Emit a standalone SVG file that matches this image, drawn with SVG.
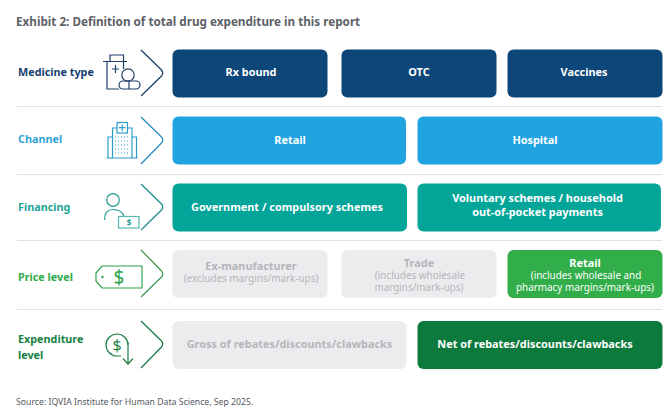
<svg xmlns="http://www.w3.org/2000/svg" width="671" height="420" viewBox="0 0 671 420">
<style>
text{font-family:"Noto Sans","Open Sans",sans-serif}
.t{font-size:10.9px;font-weight:700;fill:#fff;text-anchor:middle}
.gt{font-size:10.9px;font-weight:700;fill:#b5b5ba;text-anchor:middle}
.gs{font-size:9.9px;fill:#b5b5ba;text-anchor:middle}
.ws{font-size:9.9px;fill:#fff;text-anchor:middle}
.l{font-size:10.8px;font-weight:700}
.sep{stroke:#dfe1e8;stroke-width:1;fill:none}
.chev{fill:none;stroke-width:1.3}
.ic{fill:none;stroke-width:1.2}
</style>
<rect width="671" height="420" fill="#fff"/>
<text x="16" y="26" style="font-size:11.7px;font-weight:700;fill:#5d6168">Exhibit 2: Definition of total drug expenditure in this report</text>
<g id="separators"><path class="sep" d="M17 106.500H662M17 174.500H662M17 240.500H662M17 309.500H662"/></g>
<g id="connectors">
<path class="chev" stroke="#1f3f66" d="M141 50L161.500 70Q164 73 161.500 76L141 96"/>
<path class="chev" stroke="#2a8fbf" d="M141 117L161.500 137Q164 140 161.500 143L141 164"/>
<path class="chev" stroke="#1f8f88" d="M141 184L161.500 204Q164 207 161.500 210L141 230"/>
<path class="chev" stroke="#3f9a58" d="M141 250L161.500 271Q164 274 161.500 277L141 297"/>
<path class="chev" stroke="#1f7a45" d="M141 321L161.500 341Q164 344 161.500 347L141 368"/>
</g>
<g id="row-medicine">
<text class="l" x="18" y="76" fill="#17406f">Medicine type</text>
<g class="ic" stroke="#1f3f66"><path d="M103 61.500H127M107 61.500V89H119M110 61.500V55H123.500V69M112 69H119M115.500 65V73"/><circle cx="128" cy="75" r="6.200"/><rect x="119" y="81" width="21" height="8" rx="4"/><path d="M129 81V89"/></g>
<g id="rx"><rect x="172.500" y="49.500" width="155" height="48" rx="6" fill="#0d4678"/><text class="t" x="251" y="76">Rx bound</text></g>
<g id="otc"><rect x="341.500" y="49.500" width="155" height="48" rx="6" fill="#0d4678"/><text class="t" x="419" y="76">OTC</text></g>
<g id="vaccines"><rect x="507.500" y="49.500" width="155" height="48" rx="6" fill="#0d4678"/><text class="t" x="584" y="76">Vaccines</text></g>
</g>
<g id="row-channel">
<text class="l" x="18" y="143" fill="#2ea3d6">Channel</text>
<g class="ic" stroke="#2a9ccc"><path d="M106.500 158H137.500M108 158V137H112.500V158M132 158V137H136.500V158M112.500 137V128H117M127.500 128H132V137"/><rect x="117" y="122.500" width="10.500" height="10.500" fill="#fff"/><path d="M122.200 124.500V131M119 127.700H125.500"/><path d="M115 137H130M115 141H130M115 145H130M115 149H130M115 153H130" stroke-dasharray="1 2"/></g>
<g id="retail-channel"><rect x="172.500" y="116.500" width="233.500" height="48" rx="6" fill="#20a3df"/><text class="t" x="290" y="144">Retail</text></g>
<g id="hospital"><rect x="417.500" y="116.500" width="245" height="48" rx="6" fill="#20a3df"/><text class="t" x="535" y="144">Hospital</text></g>
</g>
<g id="row-financing">
<text class="l" x="18" y="211" fill="#1ea598">Financing</text>
<g class="ic" stroke="#1f9c91"><circle cx="113" cy="200" r="6.300"/><path d="M104.500 220C104.500 213 108 209.500 113 209.500C118 209.500 122 211 124 216"/><rect x="118.500" y="216.500" width="20.500" height="11.500" stroke="#56b8af"/></g>
<text x="129" y="226" style="font-size:8px;font-weight:700;fill:#1f9c91;text-anchor:middle">$</text>
<g id="gov"><rect x="172.500" y="183.500" width="234.500" height="48" rx="6" fill="#03a599"/><text class="t" x="287" y="211">Government / compulsory schemes</text></g>
<g id="voluntary"><rect x="417.500" y="183.500" width="243.500" height="48" rx="6" fill="#03a599"/><text class="t" x="537.500" y="202">Voluntary schemes / household</text><text class="t" x="537.500" y="216">out-of-pocket payments</text></g>
</g>
<g id="row-price">
<text class="l" x="18" y="281" fill="#2faa4a">Price level</text>
<g class="ic" stroke="#2fa24d" stroke-width="1.400"><path d="M102 266H142V288H102L96 281V273Z"/><circle cx="102.500" cy="277" r=".6"/></g>
<text x="119" y="284" style="font-size:19px;fill:#2fa24d;text-anchor:middle">$</text>
<g id="ex"><rect x="172.500" y="250" width="155" height="48" rx="6" fill="#ececee"/><text class="gt" x="251" y="270">Ex-manufacturer</text><text class="gs" x="251" y="282">(excludes margins/mark-ups)</text></g>
<g id="trade"><rect x="341.500" y="250" width="155" height="48" rx="6" fill="#ececee"/><text class="gt" x="419" y="266.500">Trade</text><text class="gs" x="420" y="278.500">(includes wholesale</text><text class="gs" x="419" y="290.500">margins/mark-ups)</text></g>
<g id="retail-price"><rect x="507.500" y="250" width="155" height="48" rx="6" fill="#31ae4a"/><text class="t" x="585" y="266.500">Retail</text><text class="ws" x="586" y="278.500">(includes wholesale and</text><text class="ws" x="585" y="290.500">pharmacy margins/mark-ups)</text></g>
</g>
<g id="row-expenditure">
<text class="l" x="18" y="343" fill="#15803f">Expenditure</text><text class="l" x="18" y="359" fill="#15803f">level</text>
<g class="ic" stroke="#1f7f47"><path d="M128 345A11 11 0 1 0 117 356H121"/><path d="M128 342V364M123 358.500L128 364L133 358.500"/></g>
<text x="117" y="350.500" style="font-size:16px;fill:#1f7f47;text-anchor:middle">$</text>
<g id="gross"><rect x="172.500" y="321" width="234" height="48" rx="6" fill="#ececee"/><text class="gt" x="289.500" y="348">Gross of rebates/discounts/clawbacks</text></g>
<g id="netof"><rect x="417.500" y="321" width="245" height="48" rx="6" fill="#0c7a3c"/><text class="t" x="535" y="348">Net of rebates/discounts/clawbacks</text></g>
</g>
<text x="16" y="405" style="font-size:8.700px;fill:#55595f">Source: IQVIA Institute for Human Data Science, Sep 2025.</text>
</svg>
